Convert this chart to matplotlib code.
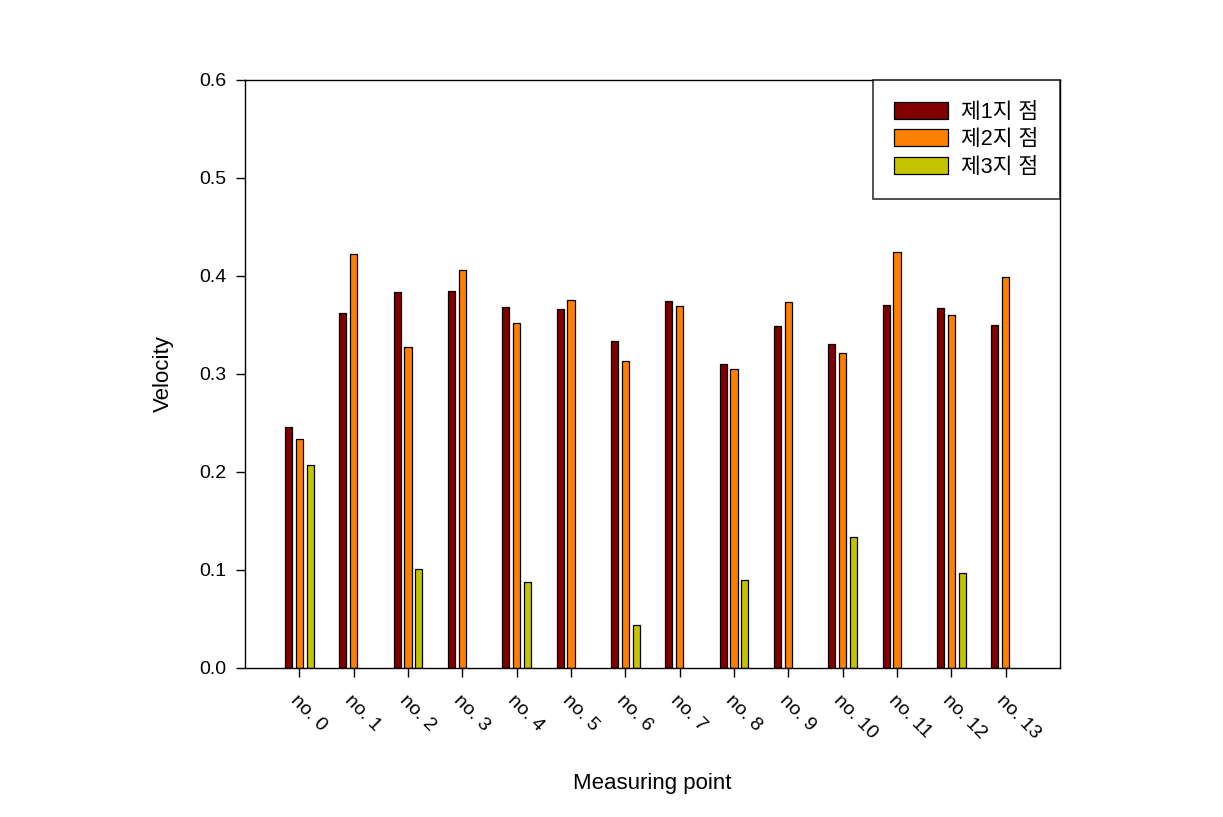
import matplotlib
matplotlib.use("Agg")
import matplotlib.pyplot as plt
import numpy as np

categories = ["no. 0", "no. 1", "no. 2", "no. 3", "no. 4", "no. 5", "no. 6",
              "no. 7", "no. 8", "no. 9", "no. 10", "no. 11", "no. 12", "no. 13"]
series_names = ["제1지 점", "제2지 점", "제3지 점"]
site1 = [0.246, 0.362, 0.384, 0.385, 0.368, 0.366, 0.334, 0.374, 0.310, 0.349, 0.331, 0.370, 0.367, 0.350]
site2 = [0.234, 0.422, 0.328, 0.406, 0.352, 0.376, 0.313, 0.369, 0.305, 0.373, 0.321, 0.425, 0.360, 0.399]
site3 = [0.207, 0, 0.101, 0, 0.088, 0, 0.044, 0, 0.090, 0, 0.134, 0, 0.097, 0]
colors = ["#800000", "#FF8000", "#C4C400"]

plt.rcParams['font.family'] = ['Liberation Sans', 'Noto Sans CJK KR', 'DejaVu Sans']

fig = plt.figure(figsize=(12.23, 8.17), dpi=100)
ax = fig.add_axes([245/1223, 1-668/817, 815/1223, 588/817])

x = np.arange(len(categories))
w = 0.13
for i, (vals, c, name) in enumerate(zip([site1, site2, site3], colors, series_names)):
    v = np.array(vals, dtype=float)
    mask = v > 0
    ax.bar(x[mask] + (i - 1) * 0.2, v[mask], width=w, color=c, edgecolor='black',
           linewidth=0.9, label=name)

ax.set_xlim(-1, 14)
ax.set_ylim(0, 0.6)
ax.set_yticks(np.arange(0, 0.61, 0.1))
ax.set_yticklabels([f"{t:.1f}" for t in np.arange(0, 0.61, 0.1)], fontsize=14)
ax.set_xticks(x)
ax.set_xticklabels(categories, rotation=-45, ha='left', va='top',
                   rotation_mode='anchor', fontsize=14)
ax.tick_params(direction='out', length=6.5, width=1)
ax.tick_params(axis='y', pad=7)
ax.tick_params(axis='x', pad=11)
for s in ax.spines.values():
    s.set_linewidth(1)

ax.set_ylabel("Velocity", fontsize=16, labelpad=18)
ax.set_xlabel("Measuring point", fontsize=16, labelpad=22)

leg = ax.legend(loc='upper right', borderaxespad=0, fontsize=15.5, frameon=True,
                fancybox=False, edgecolor='black', handlelength=2.5, handleheight=0.85,
                borderpad=1.0, labelspacing=0.3, handletextpad=0.6)
leg.get_frame().set_linewidth(1.2)

fig.savefig("out.png", dpi=100)
